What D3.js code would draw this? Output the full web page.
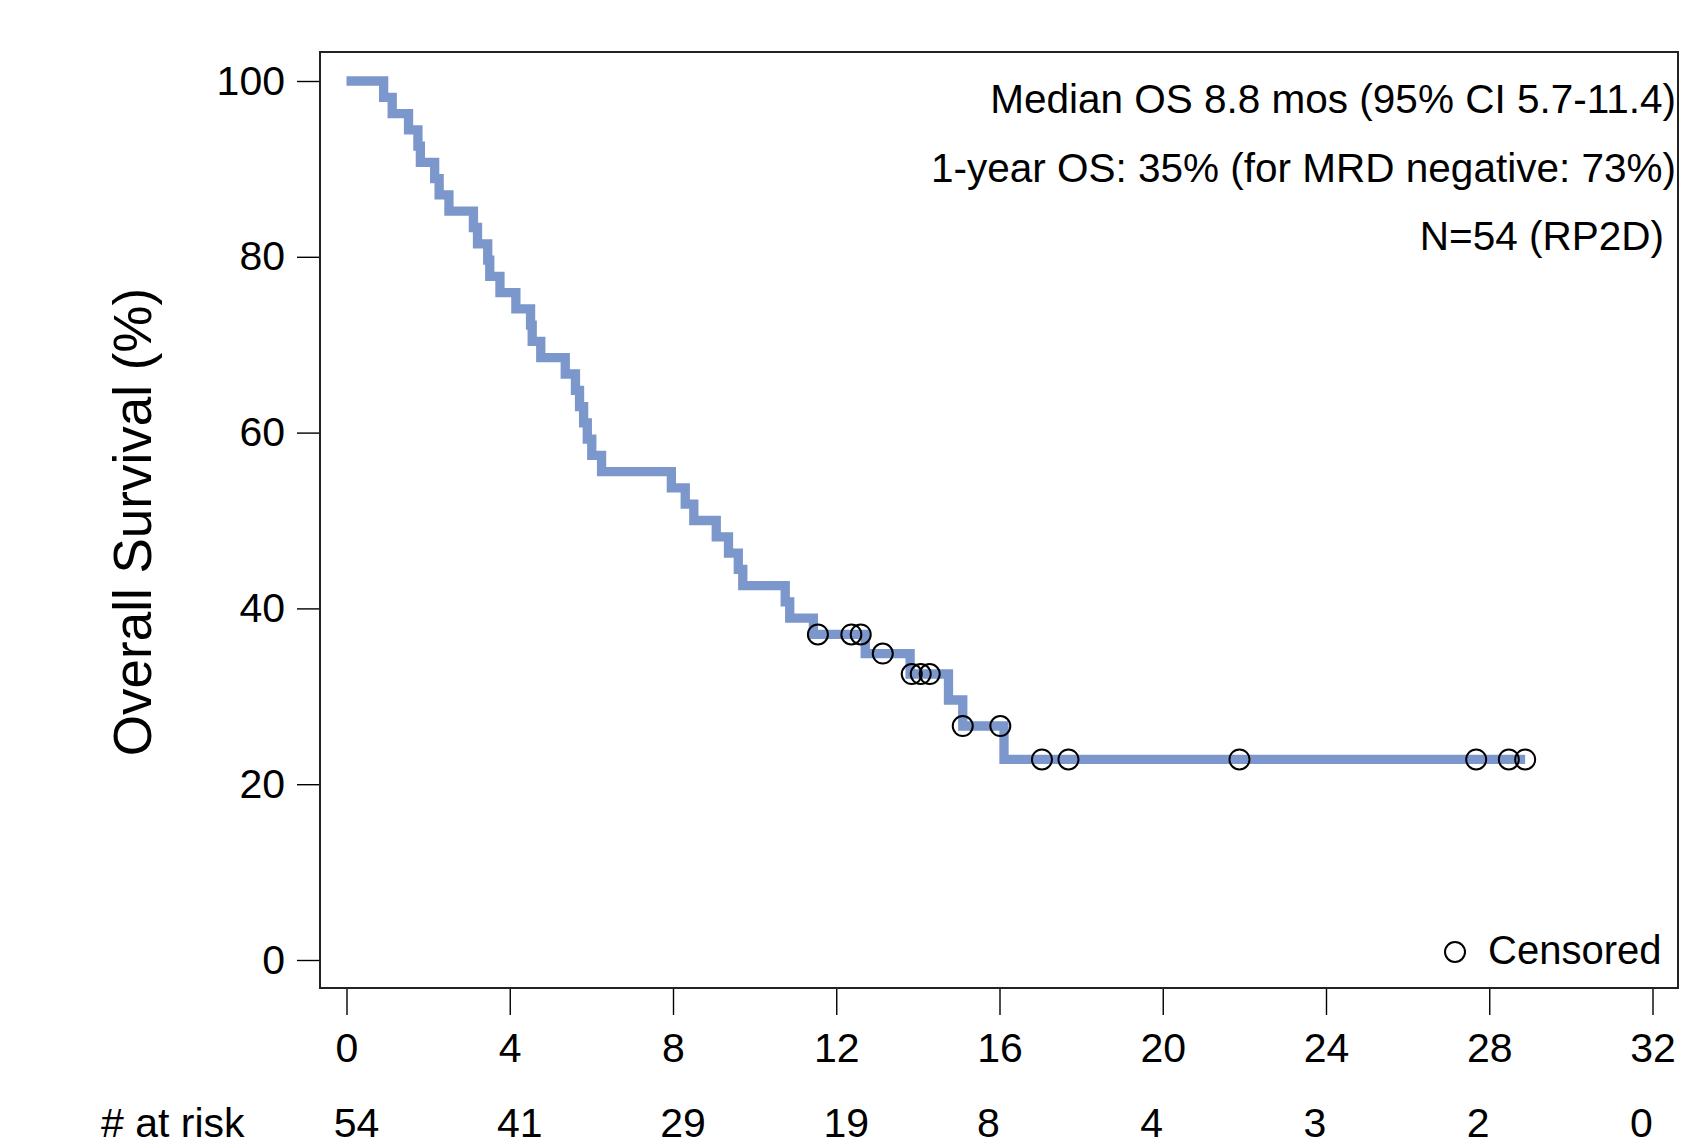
<!DOCTYPE html>
<html>
<head>
<meta charset="utf-8">
<script src="https://cdn.jsdelivr.net/npm/d3@7"></script>
<style>
    body { margin: 0; background: #fff; }
    text { font-family: "Liberation Sans", Arial, sans-serif; fill: #000; }
</style>
</head>
<body>
<div id="km"></div>
<script>
// Data (months)
const deathTimes = [0.91, 1.12, 1.52, 1.75, 1.81, 2.16, 2.27, 2.51, 3.11, 3.21, 3.46, 3.51, 3.76,
                    4.15, 4.51, 4.55, 4.76, 5.36, 5.61, 5.71, 5.81, 5.90, 6.01, 6.25, 7.96, 8.30,
                    8.51, 9.06, 9.36, 9.60, 9.71, 10.75, 10.86, 11.44, 12.71, 13.81, 14.75, 15.10, 16.11];
const censorTimes = [11.55, 12.37, 12.60, 13.14, 13.85, 14.07, 14.29, 15.10, 16.02, 17.04, 17.69,
                     21.88, 27.68, 28.48, 28.88];
const xTicks = [0, 4, 8, 12, 16, 20, 24, 28, 32];
const yTicks = [0, 20, 40, 60, 80, 100];
const atRisk = [54, 41, 29, 19, 8, 4, 3, 2, 0];
const notes = ["Median OS 8.8 mos (95% CI 5.7-11.4)",
               "1-year OS: 35% (for MRD negative: 73%)",
               "N=54 (RP2D)"];

const svgWidth = 1689, svgHeight = 1147;
const frame = {left: 320, top: 52, right: 1678, bottom: 988};
const lineColor = "#7b97cc";

// Kaplan-Meier estimate from the event times
function km_steps(deaths, censors) {
    let events = deaths.map(t => ({t: t, dead: 1}))
        .concat(censors.map(t => ({t: t, dead: 0})))
        .sort((a, b) => a.t - b.t || b.dead - a.dead); // deaths first on ties
    let n = events.length, s = 100;
    let steps = [{t: 0, s: 100}], marks = [];
    events.forEach(e => {
        if (e.dead) {
            s = s * (1 - 1 / n);
            steps.push({t: e.t, s: s});
        } else {
            marks.push({t: e.t, s: s});
        }
        n -= 1;
    });
    steps.push({t: d3.max(events, e => e.t), s: s}); // line runs to last follow-up
    return [steps, marks];
}

function create_km() {
    let svg = d3.select("#km")
                .append("svg")
                .attr("width", svgWidth)
                .attr("height", svgHeight);

    let x = d3.scaleLinear().domain([0, 32]).range([346.5, 1652.5]);
    let y = d3.scaleLinear().domain([0, 100]).range([960, 81]);

    // axes
    let yAxis = d3.axisLeft(y).tickValues(yTicks).tickSize(23).tickPadding(12);
    let gy = svg.append("g")
        .attr("transform", `translate(${frame.left},0)`)
        .call(yAxis);
    let xAxis = d3.axisBottom(x).tickValues(xTicks).tickSize(27).tickPadding(18);
    let gx = svg.append("g")
        .attr("transform", `translate(0,${frame.bottom})`)
        .call(xAxis);
    [gx, gy].forEach(g => {
        g.select(".domain").remove();
        g.selectAll("line").attr("stroke", "#000").attr("stroke-width", 1.4);
        g.selectAll("text").style("font-size", "41px").attr("fill", "#000");
    });

    // frame
    svg.append("rect")
        .attr("x", frame.left)
        .attr("y", frame.top)
        .attr("width", frame.right - frame.left)
        .attr("height", frame.bottom - frame.top)
        .attr("fill", "none")
        .attr("stroke", "#222")
        .attr("stroke-width", 2);

    let [steps, marks] = km_steps(deathTimes, censorTimes);

    let line = d3.line()
        .x(d => x(d.t))
        .y(d => y(d.s))
        .curve(d3.curveStepAfter);
    svg.append("path")
        .datum(steps)
        .attr("d", line)
        .attr("fill", "none")
        .attr("stroke", lineColor)
        .attr("stroke-width", 9.3)
        .attr("stroke-linejoin", "miter")
        .attr("stroke-linecap", "butt");

    svg.append("g")
        .selectAll("circle")
        .data(marks)
        .enter()
        .append("circle")
            .attr("cx", d => x(d.t))
            .attr("cy", d => y(d.s))
            .attr("r", 10)
            .attr("fill", "none")
            .attr("stroke", "#000")
            .attr("stroke-width", 2);

    // y title
    svg.append("text")
        .attr("transform", "translate(151,522) rotate(-90)")
        .attr("text-anchor", "middle")
        .style("font-size", "53px")
        .text("Overall Survival (%)");

    // notes top right
    svg.append("g")
        .selectAll("text")
        .data(notes)
        .enter()
        .append("text")
            .attr("x", (d, i) => i == 2 ? 1664 : 1676)
            .attr("y", (d, i) => 113 + i * 68.5)
            .attr("text-anchor", "end")
            .style("font-size", "40.5px")
            .text(d => d);

    // legend
    svg.append("circle")
        .attr("cx", 1455)
        .attr("cy", 952)
        .attr("r", 10)
        .attr("fill", "none")
        .attr("stroke", "#000")
        .attr("stroke-width", 2);
    svg.append("text")
        .attr("x", 1488)
        .attr("y", 964)
        .style("font-size", "40px")
        .text("Censored");

    // number at risk row (kept just clear of the bottom edge)
    svg.append("text")
        .attr("x", 101)
        .attr("y", 1137)
        .style("font-size", "41px")
        .text("# at risk");
    svg.append("g")
        .selectAll("text")
        .data(atRisk)
        .enter()
        .append("text")
            .attr("x", (d, i) => x(xTicks[i]) + (d >= 10 ? 10 : -11))
            .attr("y", 1137)
            .attr("text-anchor", "middle")
            .style("font-size", "41px")
            .text(d => d);
}

create_km();
</script>
</body>
</html>
